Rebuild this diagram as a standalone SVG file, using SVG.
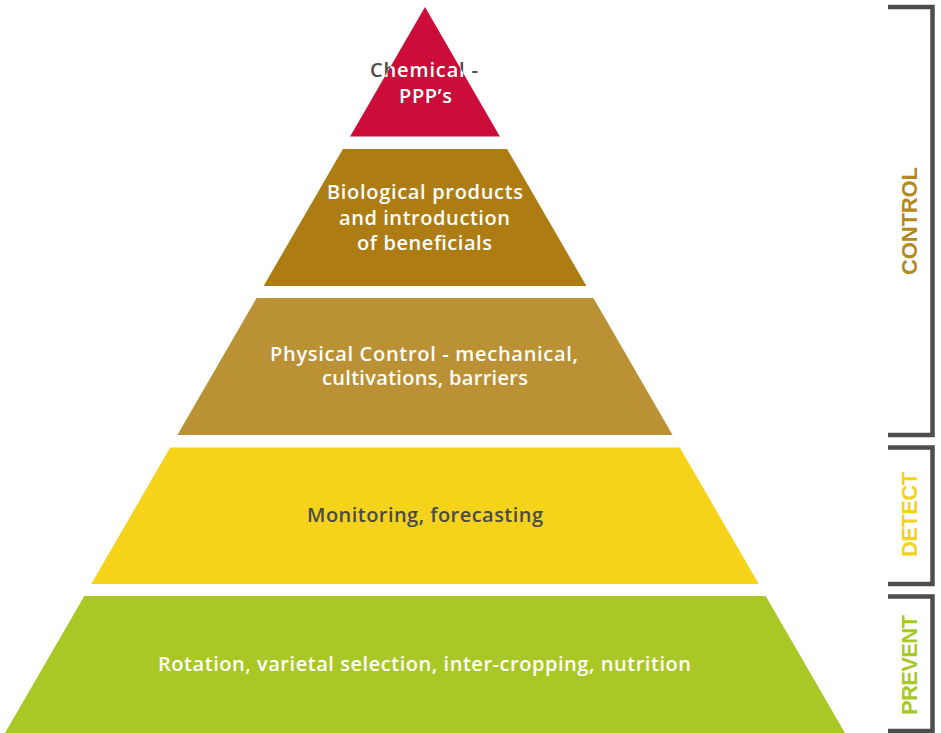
<svg xmlns="http://www.w3.org/2000/svg" width="941" height="733" viewBox="0 0 941 733">
  <style>
    .lbl { font-family: "Open Sans", "Liberation Sans", sans-serif; font-size: 20px; font-weight: 600; text-anchor: middle; }
    .w { fill: #ffffff; }
    .d { fill: #4a4a4a; }
    .side { font-family: "Liberation Sans", Arial, sans-serif; font-weight: bold; font-size: 22px; text-anchor: middle; }
    .br { fill: none; stroke: #4d4d4d; stroke-width: 4.5; stroke-linecap: butt; stroke-linejoin: miter; }
  </style>
  <defs>
    <clipPath id="tipClip">
      <polygon points="425,7 350.1,136.5 499.9,136.5"/>
    </clipPath>
  </defs>
  <rect width="941" height="733" fill="#ffffff"/>

  <!-- pyramid tiers, top to bottom -->
  <g id="tier-chemical">
    <polygon points="425,7 350.1,136.5 499.9,136.5" fill="#cc0c39"/>
    <text class="lbl d" x="424" y="77" textLength="108">Chemical -</text>
    <text class="lbl d" x="425.5" y="103" textLength="53">PPP’s</text>
    <g clip-path="url(#tipClip)">
      <text class="lbl w" x="424" y="77" textLength="108">Chemical -</text>
      <text class="lbl w" x="425.5" y="103" textLength="53">PPP’s</text>
    </g>
  </g>

  <g id="tier-biological">
    <polygon points="342.9,149 507.1,149 586.4,286 263.6,286" fill="#ad7d13"/>
    <text class="lbl w" x="425" y="199" textLength="196">Biological products</text>
    <text class="lbl w" x="424.5" y="225" textLength="171">and introduction</text>
    <text class="lbl w" x="424.5" y="250" textLength="135">of beneficials</text>
  </g>

  <g id="tier-physical">
    <polygon points="256.6,298 593.4,298 672.6,435 177.4,435" fill="#ba9135"/>
    <text class="lbl w" x="424" y="361" textLength="308">Physical Control - mechanical,</text>
    <text class="lbl w" x="425" y="385" textLength="206">cultivations, barriers</text>
  </g>

  <g id="tier-monitoring">
    <polygon points="170.2,447.5 679.8,447.5 758.8,584 91.2,584" fill="#f5d31b"/>
    <text class="lbl d" x="425" y="522" textLength="236">Monitoring, forecasting</text>
  </g>

  <g id="tier-rotation">
    <polygon points="84.3,596 765.7,596 845,733 5,733" fill="#aac825"/>
    <text class="lbl w" x="424.5" y="671" textLength="533">Rotation, varietal selection, inter-cropping, nutrition</text>
  </g>

  <!-- side brackets grouping the tiers -->
  <g id="connectors">
    <polyline class="br" points="888,7 932.5,7 932.5,435 888,435"/>
    <polyline class="br" points="888,447.5 932.5,447.5 932.5,584 888,584"/>
    <polyline class="br" points="888,596.5 932.5,596.5 932.5,731 888,731"/>
  </g>

  <g id="label-control">
    <text class="side" fill="#b4891e" transform="translate(917,221) rotate(-90)" textLength="108">CONTROL</text>
  </g>
  <g id="label-detect">
    <text class="side" fill="#f2d21b" transform="translate(917,514.5) rotate(-90)" textLength="85">DETECT</text>
  </g>
  <g id="label-prevent">
    <text class="side" fill="#a8c828" transform="translate(917,665) rotate(-90)" textLength="100">PREVENT</text>
  </g>
</svg>
